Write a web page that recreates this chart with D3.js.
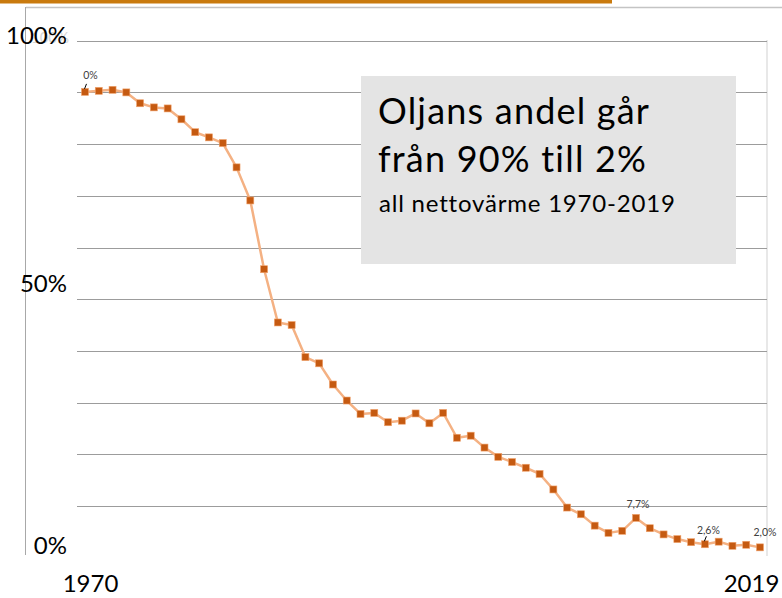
<!DOCTYPE html>
<html>
<head>
  <meta charset="utf-8">
  <script src="https://d3js.org/d3.v7.min.js"></script>
  <style>
    body { margin: 0; background: #fff; }
    svg { display: block; font-family: Lato, "Open Sans", sans-serif; }
  </style>
</head>
<body>
<script>
  // oil share of all net heat, 1970-2019 (%)
  const years = d3.range(1970, 2020);
  const oilShare = [
    90.1, 90.3, 90.5, 90.0, 87.9, 87.1, 86.9, 84.8, 82.3, 81.3,
    80.2, 75.5, 69.1, 55.8, 45.5, 45.0, 38.8, 37.6, 33.5, 30.4,
    27.8, 28.0, 26.2, 26.5, 27.9, 26.0, 28.0, 23.2, 23.6, 21.3,
    19.5, 18.5, 17.4, 16.2, 13.2, 9.7, 8.4, 6.2, 4.8, 5.2,
    7.7, 5.7, 4.5, 3.6, 3.0, 2.6, 3.1, 2.3, 2.5, 2.0
  ];
  const gridValues = d3.range(10, 101, 10);
  const yTickLabels = [{ v: 100, t: "100%" }, { v: 50, t: "50%" }, { v: 0, t: "0%" }];
  const xTickLabels = [{ v: 1970, t: "1970" }, { v: 2019, t: "2019" }];
  const pointLabels = [
    { year: 1970, t: "0%" },
    { year: 2010, t: "7,7%" },
    { year: 2015, t: "2,6%" },
    { year: 2019, t: "2,0%" }
  ];
  const titleLines = ["Oljans andel går", "från 90% till 2%"];
  const subtitle = "all nettovärme 1970-2019";

  const W = 782, H = 598;
  const svg = d3.select("body").append("svg").attr("width", W).attr("height", H);

  const x = d3.scaleLinear().domain([1970, 2019]).range([85, 760]);
  const y = d3.scaleLinear().domain([0, 100]).range([557.7, 40.7]);

  // top accent bar and frame
  svg.append("rect").attr("x", 0).attr("y", 0).attr("width", 612).attr("height", 3.5).attr("fill", "#c97a0e");
  svg.append("line").attr("x1", 26).attr("x2", W).attr("y1", 7.5).attr("y2", 7.5)
    .attr("stroke", "#c4c4c4").attr("stroke-width", 1.5);
  svg.append("line").attr("x1", 25.5).attr("x2", 25.5).attr("y1", 7).attr("y2", 555)
    .attr("stroke", "#a8a8a8").attr("stroke-width", 1);
  svg.append("line").attr("x1", 767).attr("x2", 767).attr("y1", 40).attr("y2", 556)
    .attr("stroke", "#e8e8e8").attr("stroke-width", 2);

  // gridlines
  svg.append("g").selectAll("line").data(gridValues).join("line")
    .attr("x1", 77).attr("x2", 767)
    .attr("y1", d => Math.round(y(d)) + 0.5).attr("y2", d => Math.round(y(d)) + 0.5)
    .attr("stroke", "#9c9c9c").attr("stroke-width", 1);

  // ghost label behind 100%
  svg.append("text").attr("x", 50).attr("y", 43).attr("text-anchor", "middle")
    .attr("font-size", 15).attr("fill", "#d6d6d6").text("100%");

  // y labels
  const yNudge = { 100: 3.3, 50: -7, 0: -3.7 };
  svg.append("g").selectAll("text").data(yTickLabels).join("text")
    .attr("x", 67).attr("y", d => y(d.v) + yNudge[d.v])
    .attr("text-anchor", "end").attr("font-size", 24).attr("fill", "#000")
    .text(d => d.t);

  // x labels
  const xNudge = { 1970: 5.5, 2019: -8.5 };
  svg.append("g").selectAll("text").data(xTickLabels).join("text")
    .attr("x", d => x(d.v) + xNudge[d.v]).attr("y", 592)
    .attr("text-anchor", "middle").attr("font-size", 24).attr("fill", "#000")
    .text(d => d.t);

  // title box
  svg.append("rect").attr("x", 361).attr("y", 76).attr("width", 375).attr("height", 188).attr("fill", "#e4e4e4");
  svg.append("g").selectAll("text").data(titleLines).join("text")
    .attr("x", 378).attr("y", (d, i) => 124 + i * 48)
    .attr("font-size", 36).attr("letter-spacing", 1.2).attr("fill", "#000").text(d => d);
  svg.append("text").attr("x", 379).attr("y", 211.5)
    .attr("font-size", 24).attr("letter-spacing", 0.8).attr("fill", "#000").text(subtitle);

  // line and markers
  const data = years.map((yr, i) => ({ year: yr, v: oilShare[i] }));
  const line = d3.line().x(d => x(d.year)).y(d => y(d.v));
  svg.append("path").datum(data).attr("d", line)
    .attr("fill", "none").attr("stroke", "#f4b183").attr("stroke-width", 2.5)
    .attr("stroke-linejoin", "round");
  const ms = 7;
  svg.append("g").selectAll("rect").data(data).join("rect")
    .attr("x", d => x(d.year) - ms / 2).attr("y", d => y(d.v) - ms / 2)
    .attr("width", ms).attr("height", ms)
    .attr("fill", "#c55a11").attr("stroke", "#f1a26c").attr("stroke-width", 0.6);

  // data labels
  const lbl = svg.append("g");
  const byYear = new Map(data.map(d => [d.year, d.v]));
  const lblNudge = { 1970: [5.5, -13], 2010: [2, -9.5], 2015: [3.5, -10], 2019: [5, -11] };
  pointLabels.forEach(p => {
    const px = x(p.year), py = y(byYear.get(p.year));
    const [dx, dy] = lblNudge[p.year];
    lbl.append("text").attr("x", px + dx).attr("y", py + dy)
      .attr("text-anchor", "middle").attr("font-size", 10.5).attr("fill", "#404040")
      .text(p.t);
  });
  // small leader ticks
  [1970, 2015].forEach(yr => {
    const px = x(yr), py = y(byYear.get(yr));
    lbl.append("line").attr("x1", px + 1.5).attr("y1", py - 8).attr("x2", px - 0.5).attr("y2", py - 3)
      .attr("stroke", "#000").attr("stroke-width", 1);
  });
</script>
</body>
</html>
